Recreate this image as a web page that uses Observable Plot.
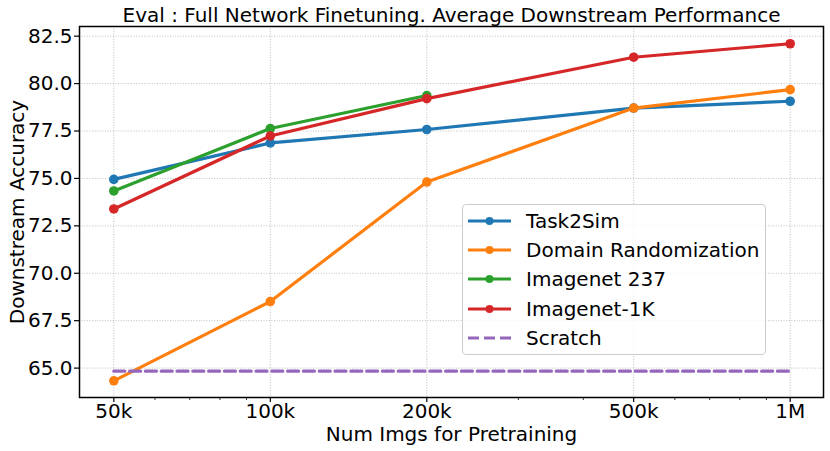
<!DOCTYPE html>
<html>
<head>
<meta charset="utf-8">
<script src="https://cdn.jsdelivr.net/npm/d3@7"></script>
<script src="https://cdn.jsdelivr.net/npm/@observablehq/plot@0.6"></script>
<style>
  body { margin: 0; background: white; }
  #wrap { position: relative; width: 830px; height: 451px; font-family: "DejaVu Sans", sans-serif; }
  #legend { position: absolute; left: 462px; top: 204px; width: 304px; height: 151px;
            border: 1px solid #cccccc; border-radius: 4px; background: rgba(255,255,255,0.8); box-sizing: border-box; }
  .row { position: absolute; left: 0; height: 29px; display: flex; align-items: center; font-size: 20px; color: #000; white-space: nowrap; }
  .row svg { margin-left: 5px; margin-right: 15px; }
</style>
</head>
<body>
<div id="wrap"></div>
<script>
const title = "Eval : Full Network Finetuning. Average Downstream Performance";
const xLabel = "Num Imgs for Pretraining";
const yLabel = "Downstream Accuracy";

const numImgs = [50000, 100000, 200000, 500000, 1000000];
const xTickLabels = ["50k", "100k", "200k", "500k", "1M"];
const xMinorTicks = [60000, 70000, 80000, 90000, 300000, 400000, 600000, 700000, 800000, 900000];
const yTicks = [65, 67.5, 70, 72.5, 75, 77.5, 80, 82.5];

const seriesNames = ["Task2Sim", "Domain Randomization", "Imagenet 237", "Imagenet-1K", "Scratch"];
const seriesColors = ["#1f77b4", "#ff7f0e", "#2ca02c", "#d62728", "#9467bd"];

const task2sim = [74.95, 76.87, 77.58, 78.71, 79.07];
const domainRand = [64.33, 68.51, 74.81, 78.71, 79.68];
const imagenet237 = [74.34, 77.63, 79.37];
const imagenet1k = [73.39, 77.24, 79.21, 81.39, 82.10];
const scratch = 64.84;

const seriesValues = [task2sim, domainRand, imagenet237, imagenet1k];

const marks = [];
marks.push(Plot.gridX(numImgs, {stroke: "#b0b0b0", strokeOpacity: 1, strokeWidth: 0.8, strokeDasharray: "1,1.6"}));
marks.push(Plot.gridY(yTicks, {stroke: "#b0b0b0", strokeOpacity: 1, strokeWidth: 0.8, strokeDasharray: "1,1.6"}));

seriesValues.forEach((vals, i) => {
  const rows = vals.map((v, j) => ({x: numImgs[j], y: v}));
  marks.push(Plot.line(rows, {x: "x", y: "y", stroke: seriesColors[i], strokeWidth: 3.2}));
  marks.push(Plot.dot(rows, {x: "x", y: "y", fill: seriesColors[i], r: 4.8, stroke: "none"}));
});
const scratchRows = [{x: numImgs[0], y: scratch}, {x: numImgs[numImgs.length - 1], y: scratch}];
marks.push(Plot.line(scratchRows, {x: "x", y: "y", stroke: seriesColors[4], strokeWidth: 3.2, strokeDasharray: "11,4.8"}));

marks.push(Plot.axisX(numImgs, {tickSize: 5, tickPadding: 1, tickFormat: (d) => xTickLabels[numImgs.indexOf(d)], fontSize: 20, stroke: "black", strokeWidth: 1.2, label: null}));
marks.push(Plot.axisX(xMinorTicks, {tickSize: 3, text: null, stroke: "black", strokeWidth: 0.8, label: null}));
marks.push(Plot.axisY(yTicks, {tickSize: 5, tickPadding: 2, tickFormat: (d) => d.toFixed(1), fontSize: 20, stroke: "black", strokeWidth: 1.2, label: null}));
marks.push(Plot.frame({stroke: "black", strokeWidth: 1.5}));

marks.push(Plot.text([title], {text: (d) => d, frameAnchor: "top", textAnchor: "middle", dy: -11, fontSize: 20, lineAnchor: "middle", fill: "black"}));
marks.push(Plot.text([xLabel], {text: (d) => d, frameAnchor: "bottom", textAnchor: "middle", dy: 37, fontSize: 20, lineAnchor: "middle", fill: "black"}));
marks.push(Plot.text([yLabel], {text: (d) => d, frameAnchor: "left", textAnchor: "middle", dx: -62, rotate: -90, fontSize: 20, lineAnchor: "middle", fill: "black"}));

const chart = Plot.plot({
  width: 830,
  height: 451,
  marginLeft: 79,
  marginRight: 7,
  marginTop: 26,
  marginBottom: 54,
  style: {fontFamily: "DejaVu Sans, sans-serif", background: "white", color: "black", overflow: "visible"},
  x: {type: "log", domain: [42950, 1159000]},
  y: {domain: [63.45, 83.01]},
  marks
});

const wrap = document.getElementById("wrap");
wrap.appendChild(chart);

// legend
const legend = document.createElement("div");
legend.id = "legend";
seriesNames.forEach((name, i) => {
  const row = document.createElement("div");
  row.className = "row";
  row.style.top = (1 + i * 29.4) + "px";
  const dashed = i === 4;
  row.innerHTML = `<svg width="43" height="12"><line x1="0" x2="43" y1="6" y2="6" stroke="${seriesColors[i]}" stroke-width="3.2" ${dashed ? 'stroke-dasharray="11,5"' : ''}/>${dashed ? '' : `<circle cx="21.5" cy="6" r="4" fill="${seriesColors[i]}"/>`}</svg><span>${name}</span>`;
  legend.appendChild(row);
});
wrap.appendChild(legend);
</script>
</body>
</html>
